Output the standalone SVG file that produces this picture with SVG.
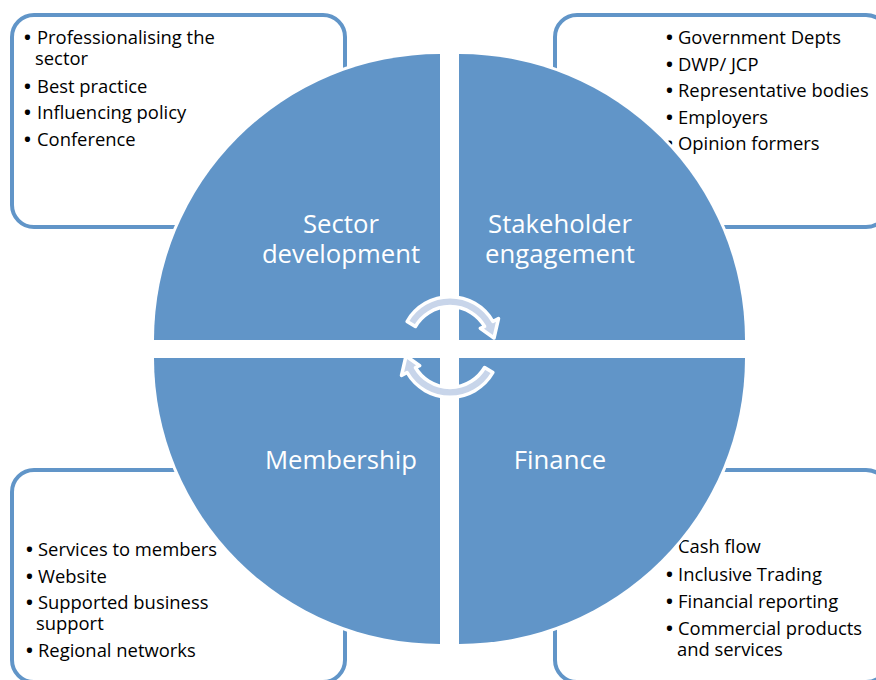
<svg xmlns="http://www.w3.org/2000/svg" width="876" height="680" viewBox="0 0 876 680">
<style>
  .box { fill: #ffffff; stroke: #6195c8; stroke-width: 4; }
  .quad { fill: #6195c8; stroke: #ffffff; stroke-width: 6; paint-order: stroke; stroke-linejoin: miter; }
  .item { font-family: "Open Sans", "Liberation Sans", sans-serif; font-size: 18.4px; fill: #000000; }
  .b { font-weight: bold; }
  .lbl { font-family: "Open Sans", "Liberation Sans", sans-serif; font-size: 25.7px; fill: #ffffff; text-anchor: middle; }
  .arr { fill: #c8d5ea; stroke: #ffffff; stroke-width: 3.5; stroke-linejoin: round; }
</style>

<g id="box-sector">
  <rect class="box" x="12" y="15" width="333" height="212" rx="22"/>
  <text class="item" x="24" y="44"><tspan class="b">•</tspan><tspan x="37">Professionalising the</tspan><tspan x="35" y="65">sector</tspan></text>
  <text class="item" x="24" y="92.5"><tspan class="b">•</tspan><tspan x="37">Best practice</tspan></text>
  <text class="item" x="24" y="119"><tspan class="b">•</tspan><tspan x="37">Influencing policy</tspan></text>
  <text class="item" x="24" y="145.5"><tspan class="b">•</tspan><tspan x="37">Conference</tspan></text>
</g>

<g id="box-stakeholder">
  <rect class="box" x="555" y="15" width="333" height="212" rx="22"/>
  <text class="item" x="666" y="44"><tspan class="b">•</tspan><tspan x="678">Government Depts</tspan></text>
  <text class="item" x="666" y="70.5"><tspan class="b">•</tspan><tspan x="678">DWP/ JCP</tspan></text>
  <text class="item" x="666" y="97"><tspan class="b">•</tspan><tspan x="678">Representative bodies</tspan></text>
  <text class="item" x="666" y="123.5"><tspan class="b">•</tspan><tspan x="678">Employers</tspan></text>
  <text class="item" x="666" y="150"><tspan class="b">•</tspan><tspan x="678">Opinion formers</tspan></text>
</g>

<g id="box-membership">
  <rect class="box" x="12" y="470" width="333" height="212" rx="22"/>
  <text class="item" x="26" y="556"><tspan class="b">•</tspan><tspan x="38">Services to members</tspan></text>
  <text class="item" x="26" y="582.5"><tspan class="b">•</tspan><tspan x="38">Website</tspan></text>
  <text class="item" x="26" y="609"><tspan class="b">•</tspan><tspan x="38">Supported business</tspan><tspan x="36" y="630">support</tspan></text>
  <text class="item" x="26" y="657"><tspan class="b">•</tspan><tspan x="38">Regional networks</tspan></text>
</g>

<g id="box-finance">
  <rect class="box" x="555" y="470" width="333" height="212" rx="22"/>
  <text class="item" x="666" y="553"><tspan class="b">•</tspan><tspan x="678">Cash flow</tspan></text>
  <text class="item" x="666" y="580.5"><tspan class="b">•</tspan><tspan x="678">Inclusive Trading</tspan></text>
  <text class="item" x="666" y="607.5"><tspan class="b">•</tspan><tspan x="678">Financial reporting</tspan></text>
  <text class="item" x="666" y="634.5"><tspan class="b">•</tspan><tspan x="678">Commercial products</tspan><tspan x="677" y="655.5">and services</tspan></text>
</g>

<g id="quad-sector">
  <path class="quad" d="M440,340 L154,340 A286,286 0 0 1 440,54 Z"/>
  <text class="lbl" x="341" y="233">Sector<tspan x="341" y="263">development</tspan></text>
</g>
<g id="quad-stakeholder">
  <path class="quad" d="M459,340 L459,54 A286,286 0 0 1 745,340 Z"/>
  <text class="lbl" x="560" y="233">Stakeholder<tspan x="560" y="263">engagement</tspan></text>
</g>
<g id="quad-membership">
  <path class="quad" d="M440,358 L440,644 A286,286 0 0 1 154,358 Z"/>
  <text class="lbl" x="341" y="469">Membership</text>
</g>
<g id="quad-finance">
  <path class="quad" d="M459,358 L745,358 A286,286 0 0 1 459,644 Z"/>
  <text class="lbl" x="560" y="469">Finance</text>
</g>

<g id="connectors">
  <path class="arr" d="M407.1,321.5 A49.5,49.5 0 0 1 492.9,321.5 L498.5,318.5 L494,338 L480.3,328.3 L484.6,326.5 A40,40 0 0 0 415.4,326.5 Z"/>
  <path class="arr" d="M492.9,372.5 A49.5,49.5 0 0 1 407.1,372.5 L401.5,375.5 L406,356 L419.7,365.7 L415.4,367.5 A40,40 0 0 0 484.6,367.5 Z"/>
</g>
</svg>
